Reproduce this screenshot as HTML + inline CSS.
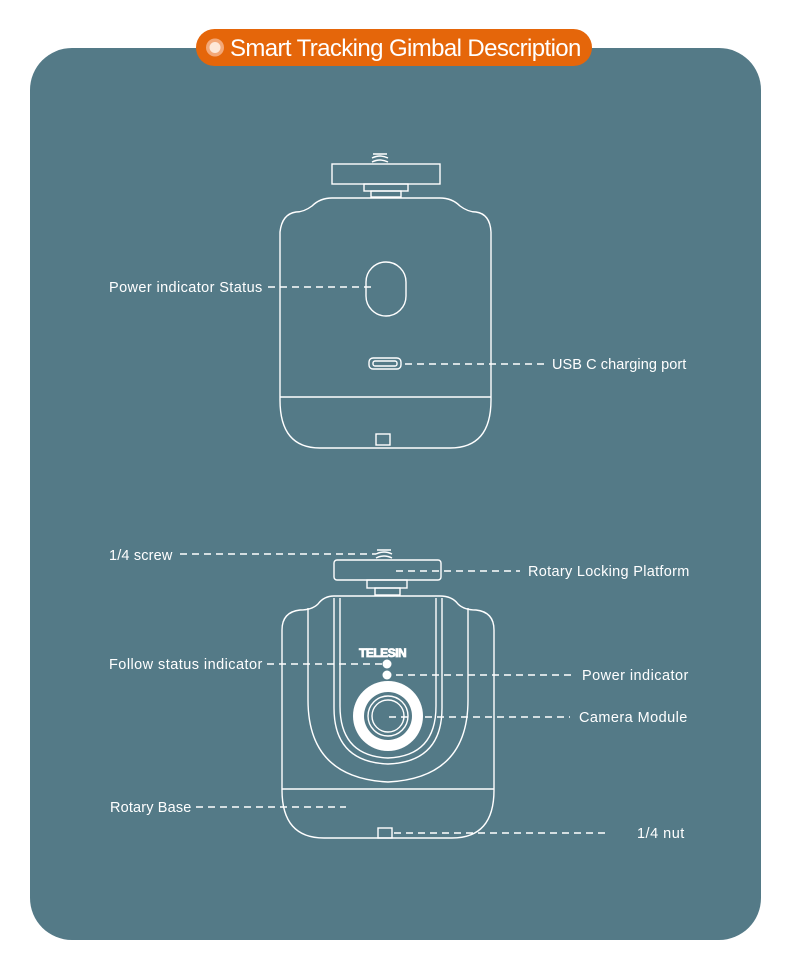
<!DOCTYPE html>
<html><head><meta charset="utf-8"><style>
html,body{margin:0;padding:0;background:#fff}
svg{display:block}
text{font-family:"Liberation Sans",sans-serif;fill:#fff;font-size:14.5px;letter-spacing:-0.3px}
</style></head><body>
<svg width="790" height="962" viewBox="0 0 790 962">
<rect x="30" y="48" width="731" height="892" rx="42" fill="#547a87"/>
<rect x="196" y="29" width="396" height="37" rx="18.5" fill="#e5660a"/>
<circle cx="215" cy="47.5" r="9" fill="#f3a878"/>
<circle cx="215" cy="47.5" r="5.5" fill="#fde8d8"/>
<text x="230" y="56" textLength="351" style="font-size:24px;letter-spacing:-0.4px" fill="#fff5e8">Smart Tracking Gimbal Description</text>

<g fill="none" stroke="#fff" stroke-width="1.4">
<path d="M372 158 q8 -4 16 0 M372 162 q8 -4 16 0 M373 154 h14"/>
<rect x="332" y="164" width="108" height="20"/>
<rect x="364" y="184" width="44" height="7"/>
<rect x="371" y="191" width="30" height="6"/>
<path d="M332 198 H440 Q452 198 460 206 Q468 212 476 212 Q490 214 491 232 V400 Q491 448 450 448 H320 Q280 448 280 400 V232 Q282 214 296 212 Q304 212 312 206 Q320 198 332 198 Z"/>
<line x1="280" y1="397" x2="491" y2="397"/>
<rect x="376" y="434" width="14" height="11"/>
<rect x="366" y="262" width="40" height="54" rx="20"/>
<rect x="369" y="358" width="32" height="11" rx="4"/>
<rect x="373" y="361" width="24" height="5" rx="2"/>

<path d="M376 554 q8 -4 16 0 M376 558 q8 -4 16 0 M377 550 h14"/>
<rect x="334" y="560" width="107" height="20" rx="3"/>
<rect x="367" y="580" width="40" height="8"/>
<rect x="375" y="588" width="25" height="7"/>
<path d="M334 596 H440 Q452 596 458 604 Q464 610 476 610 Q494 612 494 630 V790 Q494 838 452 838 H324 Q282 838 282 790 V630 Q282 612 300 610 Q312 610 318 604 Q324 596 334 596 Z"/>
<line x1="282" y1="789" x2="494" y2="789"/>
<path d="M308 608 V700 Q308 778 388 782 Q468 778 468 700 V608"/>
<path d="M334 598 V708 Q334 762 388 764 Q442 762 442 708 V598"/>
<path d="M340 598 V706 Q340 756 388 758 Q436 756 436 706 V598"/>
<rect x="378" y="828" width="14" height="10"/>
</g>
<circle cx="388" cy="716" r="35" fill="#fff"/>
<circle cx="388" cy="716" r="24" fill="#547a87"/>
<circle cx="388" cy="716" r="20" fill="none" stroke="#fff" stroke-width="1.4"/>
<circle cx="388" cy="716" r="16" fill="none" stroke="#fff" stroke-width="1.4"/>
<circle cx="387" cy="664" r="4.5" fill="#fff"/>
<circle cx="387" cy="675" r="4.5" fill="#fff"/>
<text x="359" y="657" style="font-size:12px;font-weight:bold;letter-spacing:-0.5px" fill="none" stroke="#fff" stroke-width="0.8">TELESIN</text>

<g stroke="#fff" stroke-width="1.6" stroke-dasharray="7,5">
<line x1="268" y1="287" x2="372" y2="287"/>
<line x1="405" y1="364" x2="545" y2="364"/>
<line x1="180" y1="554" x2="376" y2="554"/>
<line x1="396" y1="571" x2="520" y2="571"/>
<line x1="267" y1="664" x2="383" y2="664"/>
<line x1="396" y1="675" x2="575" y2="675"/>
<line x1="389" y1="717" x2="570" y2="717"/>
<line x1="196" y1="807" x2="346" y2="807"/>
<line x1="394" y1="833" x2="608" y2="833"/>
</g>
<text x="109" y="292" textLength="153">Power indicator Status</text>
<text x="552" y="369" textLength="134">USB C charging port</text>
<text x="109" y="560" textLength="63">1/4 screw</text>
<text x="528" y="576" textLength="161">Rotary Locking Platform</text>
<text x="109" y="669" textLength="153">Follow status indicator</text>
<text x="582" y="680" textLength="106">Power indicator</text>
<text x="579" y="722" textLength="108">Camera Module</text>
<text x="110" y="812" textLength="81">Rotary Base</text>
<text x="637" y="838" textLength="47">1/4 nut</text>
</svg>
</body></html>
